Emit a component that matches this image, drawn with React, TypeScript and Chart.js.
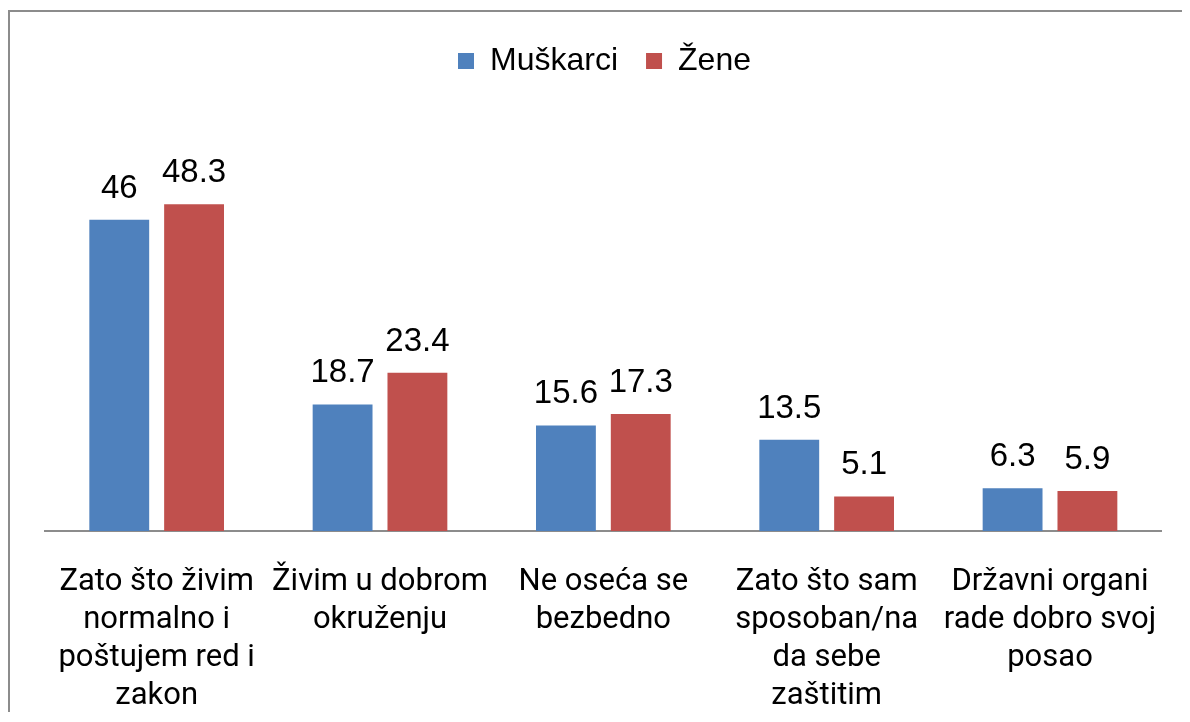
import React, { useEffect, useRef } from "react";
import { Chart, registerables } from "chart.js";

Chart.register(...registerables);

const categories: string[][] = [
  ["Zato što živim", "normalno i", "poštujem red i", "zakon"],
  ["Živim u dobrom", "okruženju"],
  ["Ne oseća se", "bezbedno"],
  ["Zato što sam", "sposoban/na", "da sebe", "zaštitim"],
  ["Državni organi", "rade dobro svoj", "posao"],
];
const seriesNames = ["Muškarci", "Žene"];
const muskarci = [46, 18.7, 15.6, 13.5, 6.3];
const zene = [48.3, 23.4, 17.3, 5.1, 5.9];
const colors = ["#4F81BD", "#C0504D"];

const valueLabels = {
  id: "valueLabels",
  afterDatasetsDraw(chart: any) {
    const ctx = chart.ctx;
    ctx.save();
    ctx.font = "33px 'Liberation Sans', Arial, sans-serif";
    ctx.fillStyle = "#000";
    ctx.textAlign = "center";
    ctx.textBaseline = "alphabetic";
    chart.data.datasets.forEach((ds: any, i: number) => {
      const meta = chart.getDatasetMeta(i);
      meta.data.forEach((bar: any, j: number) => {
        ctx.fillText(String(ds.data[j]), bar.x, bar.y - 22);
      });
    });
    ctx.restore();
  },
};

const legendSpacer = {
  id: "legendSpacer",
  beforeInit(chart: any) {
    const legend = chart.legend;
    if (!legend) return;
    const origFit = legend.fit;
    legend.fit = function () {
      origFit.call(this);
      this.height += 38;
    };
  },
};

export default function App() {
  const ref = useRef<HTMLCanvasElement>(null);
  useEffect(() => {
    if (!ref.current) return;
    const chart = new Chart(ref.current, {
      type: "bar",
      data: {
        labels: categories,
        datasets: [
          { label: seriesNames[0], data: muskarci, backgroundColor: colors[0], barPercentage: 0.8, categoryPercentage: 0.67 },
          { label: seriesNames[1], data: zene, backgroundColor: colors[1], barPercentage: 0.8, categoryPercentage: 0.67 },
        ],
      },
      options: {
        animation: false,
        responsive: true,
        maintainAspectRatio: false,
        layout: { padding: { top: 5, right: 18, left: 35, bottom: 0 } },
        plugins: {
          legend: {
            display: true,
            position: "top",
            labels: {
              boxWidth: 16,
              boxHeight: 16,
              padding: 28,
              color: "#000",
              font: { size: 32, family: "'Liberation Sans', Arial, sans-serif" },
            },
          },
          tooltip: { enabled: false },
        },
        scales: {
          x: {
            grid: { display: false },
            border: { display: true, color: "#8c8c8c", width: 2 },
            ticks: {
              color: "#000",
              autoSkip: false,
              maxRotation: 0,
              padding: 24,
              font: { size: 31, family: "Roboto, 'Noto Sans', sans-serif", lineHeight: 1.23 },
            },
            afterFit(scale: any) {
              scale.height = 181;
            },
          },
          y: {
            display: false,
            min: 0,
            max: 60,
          },
        },
      },
      plugins: [valueLabels, legendSpacer],
    });
    return () => chart.destroy();
  }, []);
  return (
    <div
      style={{
        marginTop: 2,
        borderTop: "2px solid #8c8c8c",
        borderLeft: "2px solid #8c8c8c",
        width: 1172,
        height: 700,
        position: "relative",
        background: "#fff",
      }}
    >
      <canvas ref={ref} />
    </div>
  );
}
